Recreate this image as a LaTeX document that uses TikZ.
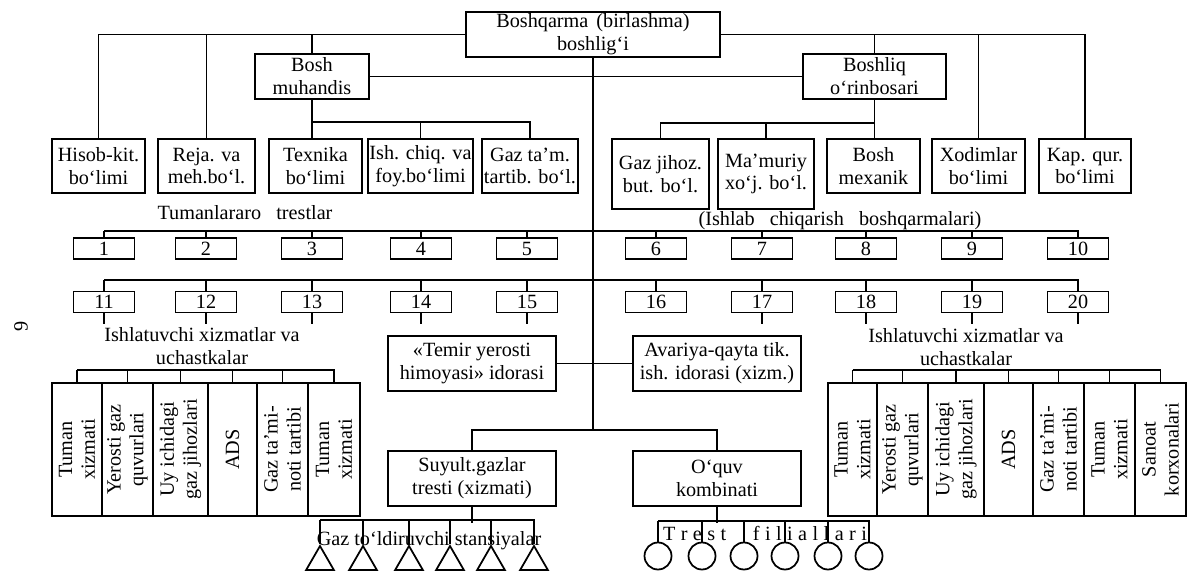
\documentclass[tikz,border=0pt]{standalone}
\usepackage{fontspec}
\setmainfont{Liberation Serif}
\usetikzlibrary{shapes.geometric}
\tikzset{wh/.style 2 args={minimum width=#1*0.2mm, minimum height=#2*0.2mm}}
\begin{document}
\begin{tikzpicture}[x=0.2mm,y=-0.2mm,line width=1pt]
        \tikzstyle{every node} = [font=\fontsize{11.5}{13}\selectfont]
        \tikzstyle{blk} = [draw, line width=1pt, align=center, inner sep=1pt]
        \tikzstyle{num} = [blk, wh={61}{21}]
        \tikzstyle{col} = [blk, rotate=90, minimum width=26.6mm]
        \tikzstyle{tri} = [draw, regular polygon, regular polygon sides=3, minimum size=6.4mm, inner sep=0pt]
        \tikzstyle{fil} = [draw, circle, minimum size=5.4mm, inner sep=0pt]
        \useasboundingbox (0,0) rectangle (1187,574);

            % rahbariyat
            \node[blk, wh={254}{45}] (head) at (593,34.5) {Boshqarma\hspace{0.4em}(birlashma)\\boshlig‘i};
            \node[blk, wh={114}{45}] (eng) at (312,76.5) {Bosh\\muhandis};
            \node[blk, wh={143}{45}] (dep) at (874.5,76.5) {Boshliq\\o‘rinbosari};

            \foreach \n/\x/\w/\t in {hisob/98.5/93/{Hisob-kit.\\bo‘limi}, reja/206.5/97/{Reja. va\\meh.bo‘l.},
                texn/315.5/93/{Texnika\\bo‘limi}, ishch/420.5/101/{Ish. chiq. va\\foy.bo‘limi},
                gazt/530/94/{Gaz ta’m.\\tartib. bo‘l.}, mex/873.5/93/{Bosh\\mexanik},
                xod/978.5/93/{Xodimlar\\bo‘limi}, kap/1085/92/{Kap. qur.\\bo‘limi}}{
                \node[blk, wh={\w}{54}] (\n) at (\x,166) {\t};
            }
            \node[blk, wh={97}{70}] (gazj) at (660.5,174) {Gaz jihoz.\\but. bo‘l.};
            \node[blk, wh={96}{70}] (mamur) at (766,174) {Ma’muriy\\xo‘j. bo‘l.};

            \draw (head.west) -| (hisob.north);
            \draw (head.west) -| (reja.north);
            \draw (head.west) -| (eng.north);
            \draw (head.east) -| (dep.north);
            \draw (head.east) -| (xod.north);
            \draw (head.east) -| (kap.north);
            \draw (eng.east) -- (dep.west);
            \draw (eng.south) -- (eng.south |- texn.north);
            \draw (eng.south) ++(0,22) -| (ishch.north);
            \draw (eng.south) ++(0,22) -| (gazt.north);
            \draw (dep.south) -- (dep.south |- mex.north);
            \draw (dep.south) ++(0,23) -| (gazj.north);
            \draw (dep.south) ++(0,23) -| (mamur.north);

            % trestlar
            \node (tum) at (245,213) {Tumanlararo\hspace{0.75em}trestlar};
            \node (ichb) at (840,221) {(Ishlab\hspace{0.75em}chiqarish\hspace{0.75em}boshqarmalari)};
            \foreach \i/\x in {1/104,2/206,3/312,4/421,5/527,6/656,7/762,8/866,9/972,10/1078}{
                \node[num] (t\i) at (\x,248.5) {\i};
                \draw (t\i.north) -- ++(0,-6);
            }
            \draw (t1.north) ++(0,-6) -| (t10.north);
            \foreach \i/\x in {11/104,12/206,13/312,14/421,15/527,16/656,17/762,18/866,19/972,20/1078}{
                \node[num] (t\i) at (\x,302) {\i};
                \draw (t\i.north) -- ++(0,-11);
            }
            \draw (t11.north) ++(0,-11) -| (t20.north);
            \foreach \i in {11,12,13,14,15,17,18,19,20}
                \draw (t\i.south) -- ++(0,11);

            % ishlatuvchi xizmatlar
            \node[align=center] (ishl) at (202,346) {Ishlatuvchi xizmatlar va\\uchastkalar};
            \node[align=center] (ishr) at (966,347) {Ishlatuvchi xizmatlar va\\uchastkalar};
            \foreach \n/\x/\w/\t in {1/77/50/{Tuman\\xizmati}, 2/127.5/51/{Yerosti gaz\\quvurlari},
                3/180.5/55/{Uy ichidagi\\gaz jihozlari}, 4/232.5/49/ADS,
                5/282.5/51/{Gaz ta’mi-\\noti tartibi}, 6/334/52/{Tuman\\xizmati}}{
                \node[col, minimum height=\w*0.2mm] (lc\n) at (\x,449.5) {\t};
                \draw (lc\n.east) -- ++(0,-12);
            }
            \draw (lc1.east) ++(0,-12) -| (lc6.east);
            \foreach \n/\x/\w/\t in {1/852.5/49/{Tuman\\xizmati}, 2/902.5/51/{Yerosti gaz\\quvurlari},
                3/956/56/{Uy ichidagi\\gaz jihozlari}, 4/1008.5/49/ADS,
                5/1058.5/51/{Gaz ta’mi-\\noti tartibi}, 6/1109.5/51/{Tuman\\xizmati},
                7/1160.5/51/{Sanoat\\korxonalari}}{
                \node[col, minimum height=\w*0.2mm] (rc\n) at (\x,449.5) {\t};
                \draw (rc\n.east) -- ++(0,-12);
            }
            \draw (rc1.east) ++(0,-12) -| (rc7.east);

            % idoralar
            \node[blk, wh={168}{55}] (temir) at (472,363.5) {«Temir yerosti\\himoyasi» idorasi};
            \node[blk, wh={168}{55}] (avar) at (717,363.5) {Avariya-qayta tik.\\ish. idorasi (xizm.)};
            \node[blk, wh={168}{55}] (suy) at (472,478.5) {Suyult.gazlar\\tresti (xizmati)};
            \node[blk, wh={168}{55}] (oquv) at (717,478.5) {O‘quv\\kombinati};
            \coordinate (split) at (593,430);
            \draw (head.south) -- (split);
            \draw (temir.east) -- (avar.west);
            \draw (split) -| (suy.north);
            \draw (split) -| (oquv.north);

            % stansiyalar va filiallar
            \foreach \k/\x in {1/320,2/363,3/409,4/450,5/491,6/534}{
                \node[tri] (st\k) at (\x,562) {};
                \draw (st\k.corner 1) -- ++(0,-24);
            }
            \draw (st1.corner 1) ++(0,-24) -| (st6.corner 1);
            \draw (suy.south) -- ++(0,16);
            \node (gazst) at (429,541) {Gaz to‘ldiruvchi stansiyalar};

            \foreach \k/\x in {1/658,2/702,3/744,4/785,5/828,6/869}{
                \node[fil] (fil\k) at (\x,556) {};
                \draw (fil\k.north) -- ++(0,-21);
            }
            \draw (fil1.north) ++(0,-21) -| (fil6.north);
            \draw (oquv.south) -- ++(0,16);
            \node (trest) at (765,533) {\spaceskip=3.1pt\relax T r e s t \hspace{12pt}f i l i a l l a r i};

            \node[rotate=90] (pg) at (21,326) {9};
\end{tikzpicture}
\end{document}
